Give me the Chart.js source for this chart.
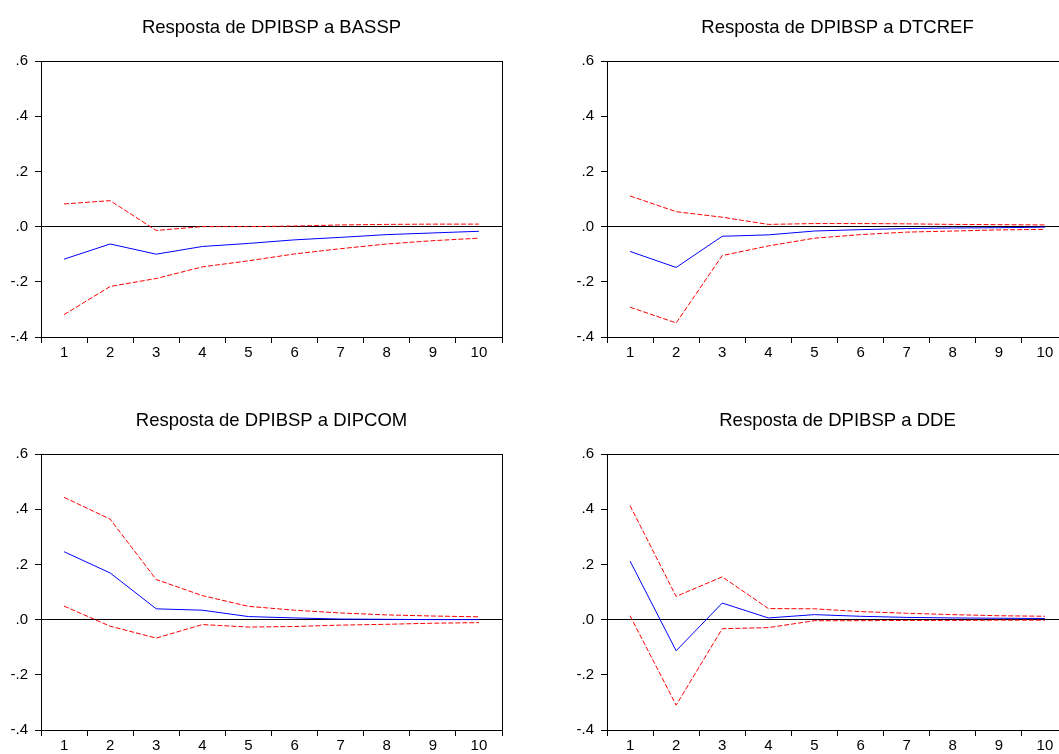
<!DOCTYPE html>
<html lang="pt">
<head>
<meta charset="UTF-8">
<title>Respostas de DPIBSP</title>
<script src="https://cdn.jsdelivr.net/npm/chart.js@4.4.1/dist/chart.umd.min.js"></script>
<style>
  html, body { margin: 0; padding: 0; background: #fff; overflow: hidden; }
  body { width: 1059px; height: 754px; position: relative; }
  canvas { position: absolute; }
</style>
</head>
<body>
<canvas id="c1" width="530" height="380" style="left:0;top:0"></canvas>
<canvas id="c2" width="530" height="380" style="left:566px;top:0"></canvas>
<canvas id="c3" width="530" height="380" style="left:0;top:393px"></canvas>
<canvas id="c4" width="530" height="380" style="left:566px;top:393px"></canvas>
<script>
const periods = ['1', '2', '3', '4', '5', '6', '7', '8', '9', '10'];
const yTicks = [-0.4, -0.2, 0, 0.2, 0.4, 0.6];

// Resposta de DPIBSP a BASSP
const bassp = [-0.118, -0.063, -0.100, -0.072, -0.061, -0.048, -0.039, -0.029, -0.023, -0.017];
const basspHi = [0.082, 0.094, -0.014, 0.000, 0.000, 0.002, 0.006, 0.008, 0.009, 0.009];
const basspLo = [-0.319, -0.217, -0.188, -0.146, -0.124, -0.099, -0.080, -0.063, -0.051, -0.042];

// Resposta de DPIBSP a DTCREF
const dtcref = [-0.090, -0.148, -0.035, -0.030, -0.016, -0.011, -0.007, -0.005, -0.004, -0.002];
const dtcrefHi = [0.111, 0.054, 0.034, 0.008, 0.011, 0.011, 0.010, 0.008, 0.007, 0.006];
const dtcrefLo = [-0.292, -0.349, -0.105, -0.070, -0.042, -0.029, -0.020, -0.016, -0.012, -0.010];

// Resposta de DPIBSP a DIPCOM
const dipcom = [0.246, 0.169, 0.039, 0.034, 0.011, 0.006, 0.002, 0.001, 0.000, 0.000];
const dipcomHi = [0.443, 0.364, 0.145, 0.087, 0.048, 0.034, 0.024, 0.017, 0.013, 0.010];
const dipcomLo = [0.049, -0.024, -0.067, -0.018, -0.027, -0.025, -0.020, -0.017, -0.013, -0.011];

// Resposta de DPIBSP a DDE
const dde = [0.212, -0.113, 0.060, 0.006, 0.018, 0.012, 0.008, 0.006, 0.005, 0.004];
const ddeHi = [0.413, 0.084, 0.155, 0.040, 0.039, 0.029, 0.023, 0.018, 0.014, 0.012];
const ddeLo = [0.014, -0.310, -0.033, -0.029, -0.004, -0.004, -0.003, -0.003, -0.002, -0.002];

Chart.defaults.font.family = "Arial, 'Liberation Sans', sans-serif";
Chart.defaults.color = '#000';
Chart.defaults.animation = false;

// box round the plot area, like the source program
const framePlugin = {
    id: 'frame',
    afterDraw(chart) {
        const a = chart.chartArea;
        const ctx = chart.ctx;
        ctx.save();
        ctx.strokeStyle = '#000';
        ctx.lineWidth = 1;
        ctx.strokeRect(Math.round(a.left) + 0.5, Math.round(a.top) + 0.5,
            Math.round(a.right - a.left), Math.round(a.bottom - a.top));
        ctx.restore();
    }
};

function fmtTick(v) {
    if (Math.abs(v) < 1e-9) return '.0';
    return Number(v).toFixed(1).replace('0.', '.');
}

function makeChart(id, title, mid, hi, lo) {
    new Chart(document.getElementById(id), {
        type: 'line',
        data: {
            labels: periods,
            datasets: [
                { data: mid, borderColor: '#0000ff', borderWidth: 1, pointRadius: 0, tension: 0 },
                { data: hi, borderColor: '#ff0000', borderWidth: 1, borderDash: [5, 2], pointRadius: 0, tension: 0 },
                { data: lo, borderColor: '#ff0000', borderWidth: 1, borderDash: [5, 2], pointRadius: 0, tension: 0 }
            ]
        },
        options: {
            responsive: false,
            events: [],
            layout: { padding: { left: 0, right: 28, top: 0, bottom: 0 } },
            plugins: {
                legend: { display: false },
                tooltip: { enabled: false },
                title: {
                    display: true,
                    text: title,
                    fullSize: false,
                    font: { size: 18.5, weight: 'normal' },
                    color: '#000',
                    padding: { top: 17, bottom: 21.8 }
                }
            },
            scales: {
                x: {
                    offset: true,
                    grid: { offset: true, drawOnChartArea: false, tickLength: 6, color: '#000' },
                    border: { color: '#000' },
                    ticks: { font: { size: 15 }, padding: 1, maxRotation: 0, autoSkip: false },
                    afterFit(scale) { scale.height = 43; }
                },
                y: {
                    min: yTicks[0],
                    max: yTicks[yTicks.length - 1],
                    afterBuildTicks(scale) { scale.ticks = yTicks.map(v => ({ value: v })); },
                    grid: {
                        tickLength: 6,
                        color: c => (c.tick && Math.abs(c.tick.value) < 1e-9) ? '#000' : 'rgba(0,0,0,0)',
                        tickColor: '#000'
                    },
                    border: { color: '#000' },
                    ticks: { font: { size: 15 }, padding: 7, callback: v => fmtTick(v) },
                    afterFit(scale) { scale.width = 41; }
                }
            }
        },
        plugins: [framePlugin]
    });
}

makeChart('c1', 'Resposta de DPIBSP a BASSP', bassp, basspHi, basspLo);
makeChart('c2', 'Resposta de DPIBSP a DTCREF', dtcref, dtcrefHi, dtcrefLo);
makeChart('c3', 'Resposta de DPIBSP a DIPCOM', dipcom, dipcomHi, dipcomLo);
makeChart('c4', 'Resposta de DPIBSP a DDE', dde, ddeHi, ddeLo);
</script>
</body>
</html>
